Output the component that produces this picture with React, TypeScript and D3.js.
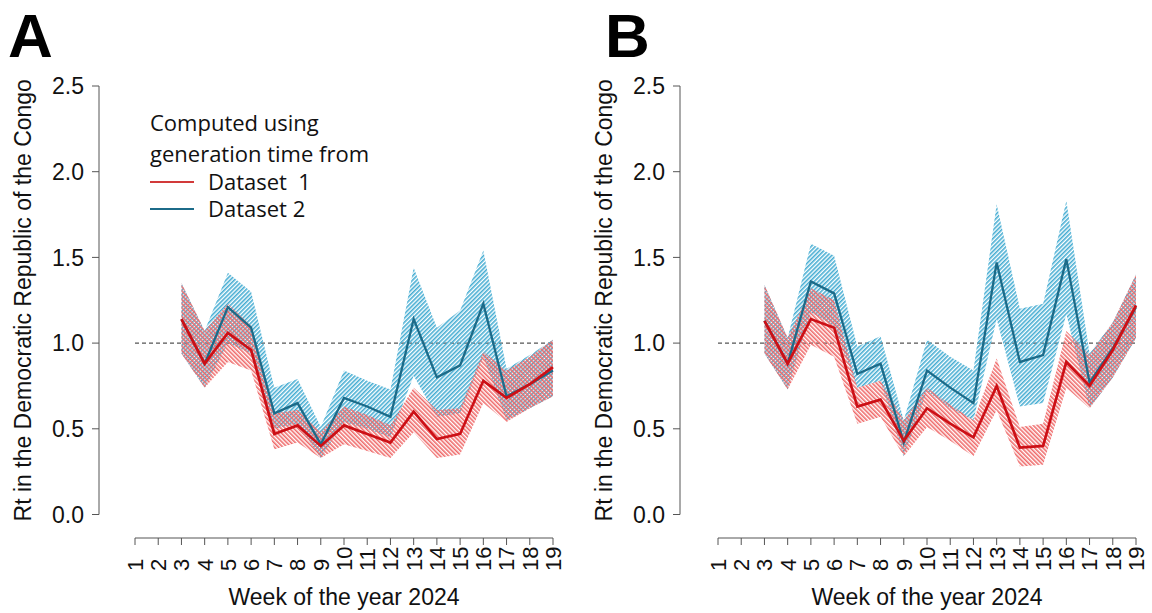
import React from "react";
import * as d3 from "d3";

// Week numbers on the x axis and the weeks with estimates
const TICK_WEEKS = d3.range(1, 20);
const WEEKS = [3, 4, 5, 6, 7, 8, 9, 10, 11, 12, 13, 14, 15, 16, 17, 18, 19];
const Y_TICKS = [0, 0.5, 1.0, 1.5, 2.0, 2.5];

// Panel A: Rt estimates (median, lower and upper bounds)
const A_RED = [1.14, 0.88, 1.06, 0.96, 0.47, 0.52, 0.4, 0.52, 0.47, 0.42, 0.6, 0.44, 0.47, 0.78, 0.68, 0.76, 0.86];
const A_RED_LO = [0.94, 0.74, 0.89, 0.84, 0.38, 0.42, 0.33, 0.41, 0.37, 0.33, 0.48, 0.33, 0.35, 0.65, 0.54, 0.62, 0.69];
const A_RED_HI = [1.35, 1.07, 1.23, 1.1, 0.59, 0.61, 0.48, 0.63, 0.58, 0.52, 0.74, 0.61, 0.62, 0.95, 0.84, 0.92, 1.02];
const A_BLUE = [1.14, 0.88, 1.21, 1.09, 0.59, 0.65, 0.41, 0.68, 0.63, 0.57, 1.14, 0.8, 0.87, 1.23, 0.69, 0.76, 0.84];
const A_BLUE_LO = [0.94, 0.74, 1.0, 0.94, 0.5, 0.53, 0.33, 0.54, 0.5, 0.45, 0.81, 0.57, 0.59, 0.92, 0.55, 0.62, 0.69];
const A_BLUE_HI = [1.35, 1.07, 1.41, 1.3, 0.74, 0.79, 0.51, 0.84, 0.78, 0.73, 1.44, 1.09, 1.19, 1.54, 0.85, 0.93, 1.02];

// Panel B: Rt estimates (median, lower and upper bounds)
const B_RED = [1.13, 0.88, 1.14, 1.09, 0.63, 0.67, 0.43, 0.62, 0.53, 0.45, 0.75, 0.39, 0.4, 0.89, 0.75, 0.96, 1.22];
const B_RED_LO = [0.94, 0.73, 0.99, 0.92, 0.53, 0.57, 0.34, 0.51, 0.43, 0.34, 0.61, 0.28, 0.29, 0.74, 0.62, 0.8, 1.03];
const B_RED_HI = [1.34, 1.03, 1.32, 1.25, 0.74, 0.78, 0.55, 0.74, 0.64, 0.55, 0.91, 0.51, 0.53, 1.07, 0.93, 1.12, 1.4];
const B_BLUE = [1.13, 0.88, 1.36, 1.29, 0.82, 0.88, 0.42, 0.84, 0.74, 0.65, 1.47, 0.89, 0.93, 1.49, 0.77, 0.97, 1.21];
const B_BLUE_LO = [0.94, 0.73, 1.18, 1.1, 0.74, 0.78, 0.34, 0.72, 0.62, 0.55, 1.14, 0.63, 0.65, 1.17, 0.62, 0.8, 1.03];
const B_BLUE_HI = [1.34, 1.03, 1.58, 1.51, 0.98, 1.04, 0.55, 1.02, 0.92, 0.84, 1.81, 1.2, 1.23, 1.83, 0.94, 1.12, 1.4];

const LEGEND_TITLE = ["Computed using", "generation time from"];
const LEGEND_ITEMS = ["Dataset  1", "Dataset 2"];

const RED_LINE = "#cc1016";
const BLUE_LINE = "#1c6b89";
const RED_HATCH = "#ef6a6a";
const BLUE_HATCH = "#45acd2";
const AXIS = "#555";
const SANS = "'Liberation Sans', Arial, sans-serif";

type Series = { mid: number[]; lo: number[]; hi: number[] };

type PanelProps = {
  label: string;
  labelX: number;
  axisX: number;
  x0: number;
  x1: number;
  red: Series;
  blue: Series;
  legend: boolean;
};

const y = d3.scaleLinear().domain([0, 2.5]).range([514.5, 86]);

function Panel({ label, labelX, axisX, x0, x1, red, blue, legend }: PanelProps) {
  const x = d3.scaleLinear().domain([1, 19]).range([x0, x1]);
  const line = d3
    .line<number>()
    .x((_, i) => x(WEEKS[i]))
    .y((d) => y(d));
  const band = (lo: number[], hi: number[]) =>
    d3
      .area<number>()
      .x((_, i) => x(WEEKS[i]))
      .y0((_, i) => y(lo[i]))
      .y1((_, i) => y(hi[i]))(lo) || "";

  const xAxisY = 538;
  const xMid = x(10);

  return (
    <g>
      <text x={labelX} y={57} fontFamily={SANS} fontWeight="bold" fontSize={62} fill="#000">
        {label}
      </text>

      {/* y axis */}
      <line x1={axisX} x2={axisX} y1={y(0)} y2={y(2.5)} stroke={AXIS} strokeWidth={1} />
      {Y_TICKS.map((t) => (
        <g key={t}>
          <line x1={axisX - 7} x2={axisX} y1={y(t)} y2={y(t)} stroke={AXIS} strokeWidth={1} />
          <text
            x={axisX - 15}
            y={y(t)}
            dy="0.36em"
            textAnchor="end"
            fontFamily={SANS}
            fontSize={23}
            fill="#111"
          >
            {t.toFixed(1)}
          </text>
        </g>
      ))}
      <text
        transform={`translate(${axisX - 68},${y(1.25)}) rotate(-90)`}
        textAnchor="middle"
        fontFamily={SANS}
        fontSize={23}
        fill="#111"
      >
        Rt in the Democratic Republic of the Congo
      </text>

      {/* x axis */}
      <line x1={x(1)} x2={x(19)} y1={xAxisY} y2={xAxisY} stroke={AXIS} strokeWidth={1} />
      {TICK_WEEKS.map((w) => (
        <g key={w}>
          <line x1={x(w)} x2={x(w)} y1={xAxisY} y2={xAxisY + 7} stroke={AXIS} strokeWidth={1} />
          <text
            transform={`translate(${x(w)},571) rotate(-90)`}
            dy="0.36em"
            textAnchor="start"
            fontFamily={SANS}
            fontSize={22}
            fill="#111"
          >
            {w}
          </text>
        </g>
      ))}
      <text x={xMid} y={605} textAnchor="middle" fontFamily={SANS} fontSize={23} fill="#111">
        Week of the year 2024
      </text>

      {/* reference line at Rt = 1 */}
      <line
        x1={x(1)}
        x2={x(19)}
        y1={y(1)}
        y2={y(1)}
        stroke="#555"
        strokeWidth={1.2}
        strokeDasharray="4 3"
      />

      {/* uncertainty bands */}
      <path d={band(blue.lo, blue.hi)} fill="url(#hatchBlue)" />
      <path d={band(red.lo, red.hi)} fill="url(#hatchRed)" />

      {/* median estimates */}
      <path d={line(blue.mid) || ""} fill="none" stroke={BLUE_LINE} strokeWidth={2.3} strokeLinejoin="miter" />
      <path d={line(red.mid) || ""} fill="none" stroke={RED_LINE} strokeWidth={2.7} strokeLinejoin="miter" />

      {legend && (
        <g fontFamily="'Open Sans', 'Noto Sans', sans-serif" fontSize={22} fill="#111">
          <text x={150} y={131}>
            {LEGEND_TITLE[0]}
          </text>
          <text x={150} y={162}>
            {LEGEND_TITLE[1]}
          </text>
          {LEGEND_ITEMS.map((name, i) => (
            <g key={name}>
              <line
                x1={150}
                x2={194}
                y1={182 + i * 27}
                y2={182 + i * 27}
                stroke={i === 0 ? "#d23a3a" : BLUE_LINE}
                strokeWidth={1.8}
              />
              <text x={208} y={190 + i * 27} style={{ whiteSpace: "pre" }}>
                {name}
              </text>
            </g>
          ))}
        </g>
      )}
    </g>
  );
}

export default function App() {
  return (
    <svg
      width={1152}
      height={613}
      style={{ position: "absolute", left: 0, top: 0, background: "#fff" }}
    >
      <defs>
        <pattern
          id="hatchBlue"
          patternUnits="userSpaceOnUse"
          width={3}
          height={3}
          patternTransform="rotate(45)"
        >
          <line x1={0.8} y1={0} x2={0.8} y2={3} stroke={BLUE_HATCH} strokeWidth={1.6} />
        </pattern>
        <pattern
          id="hatchRed"
          patternUnits="userSpaceOnUse"
          width={3}
          height={3}
          patternTransform="rotate(-45)"
        >
          <line x1={0.8} y1={0} x2={0.8} y2={3} stroke={RED_HATCH} strokeWidth={1.6} />
        </pattern>
      </defs>
      <rect width={1152} height={613} fill="#fff" />
      <Panel
        label="A"
        labelX={8}
        axisX={99}
        x0={135}
        x1={553}
        red={{ mid: A_RED, lo: A_RED_LO, hi: A_RED_HI }}
        blue={{ mid: A_BLUE, lo: A_BLUE_LO, hi: A_BLUE_HI }}
        legend
      />
      <Panel
        label="B"
        labelX={605}
        axisX={680}
        x0={718}
        x1={1136}
        red={{ mid: B_RED, lo: B_RED_LO, hi: B_RED_HI }}
        blue={{ mid: B_BLUE, lo: B_BLUE_LO, hi: B_BLUE_HI }}
        legend={false}
      />
    </svg>
  );
}
